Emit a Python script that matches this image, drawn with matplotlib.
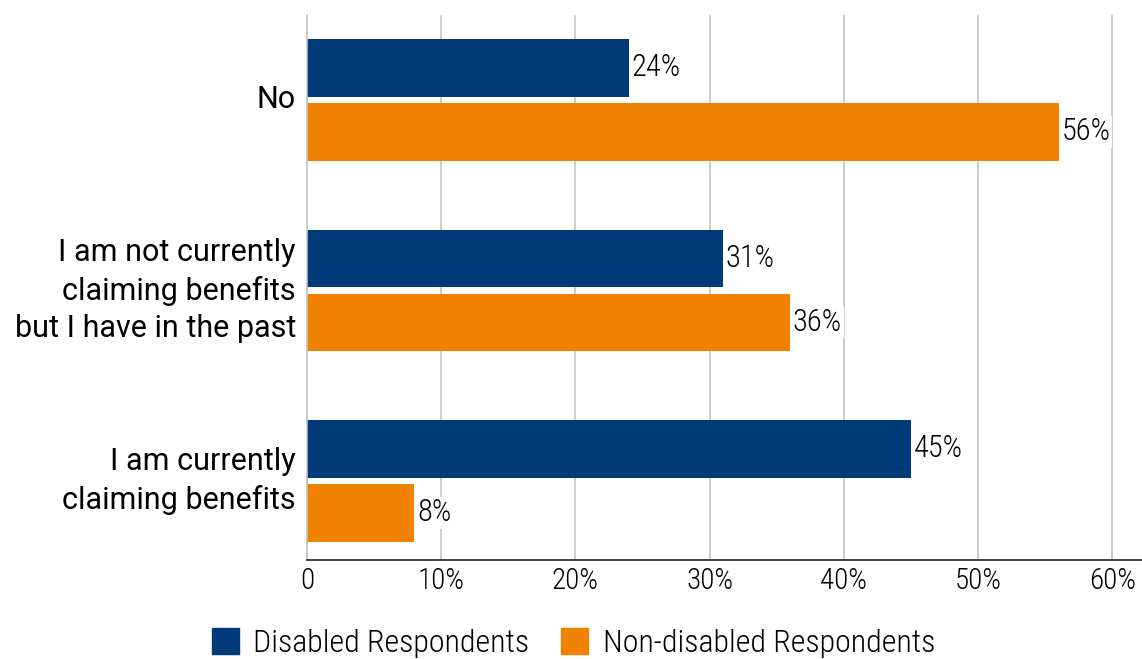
import matplotlib
matplotlib.use("Agg")
import matplotlib.pyplot as plt
from matplotlib import font_manager
from matplotlib.patches import Patch
import numpy as np

categories = ["I am currently\nclaiming benefits",
              "I am not currently\nclaiming benefits\nbut I have in the past",
              "No"]
disabled = [45, 31, 24]
non_disabled = [8, 36, 56]
series_names = ["Disabled Respondents", "Non-disabled Respondents"]
ticks = [0, 10, 20, 30, 40, 50, 60]
tick_labels = ["0", "10%", "20%", "30%", "40%", "50%", "60%"]

navy = "#003a78"
orange = "#f08200"

installed = {f.name for f in font_manager.fontManager.ttflist}
narrow = [n for n in ["Roboto Condensed", "Liberation Sans Narrow", "DejaVu Sans Condensed",
                      "Open Sans Condensed", "Roboto"] if n in installed]

fig = plt.figure(figsize=(11.42, 6.59), dpi=100)
ax = fig.add_axes([307 / 1142, 1 - 560 / 659, (1142 - 307) / 1142, (560 - 15) / 659])

y = np.arange(len(categories))
h = 0.30
off = 0.168
ax.barh(y + off, disabled, height=h, color=navy, zorder=2)
ax.barh(y - off, non_disabled, height=h, color=orange, zorder=2)

# value labels sit on a white box so the gridlines don't run through them
for yy, v in zip(y + off, disabled):
    ax.text(v + 0.2, yy, f"{v}%", va="center", ha="left", fontsize=22,
            family=narrow, fontweight="light", zorder=3,
            bbox=dict(facecolor="white", edgecolor="none", pad=1))
for yy, v in zip(y - off, non_disabled):
    ax.text(v + 0.2, yy, f"{v}%", va="center", ha="left", fontsize=22,
            family=narrow, fontweight="light", zorder=3,
            bbox=dict(facecolor="white", edgecolor="none", pad=1))

ax.set_xlim(0, 62.2)
ax.set_ylim(-0.415, 2.446)
ax.set_xticks(ticks)
ax.set_xticklabels(tick_labels, fontsize=21, family=narrow, fontweight="light")
ax.set_yticks(y)
ax.set_yticklabels(categories, fontsize=22, family="Roboto", linespacing=1.38)
for lab in ax.get_yticklabels():
    lab.set_va("center")
ax.tick_params(length=0, pad=10)
ax.tick_params(axis="y", pad=8)
ax.tick_params(axis="x", pad=5)

ax.grid(axis="x", color="#c4c4c4", linewidth=1.2, zorder=0)
ax.set_axisbelow(True)
for s in ["top", "right"]:
    ax.spines[s].set_visible(False)
ax.spines["left"].set_color("#c4c4c4")
ax.spines["left"].set_linewidth(1.2)
ax.spines["bottom"].set_color("#222222")
ax.spines["bottom"].set_linewidth(1.2)

handles = [Patch(color=navy), Patch(color=orange)]
fig.legend(handles, series_names, loc="center", bbox_to_anchor=(0.502, 1 - 643 / 659),
           ncol=2, frameon=False,
           prop={"family": narrow, "size": 23, "weight": "light"},
           handlelength=0.85, handleheight=0.85, handletextpad=0.45, columnspacing=1.0)

fig.savefig("out.png", dpi=100)
